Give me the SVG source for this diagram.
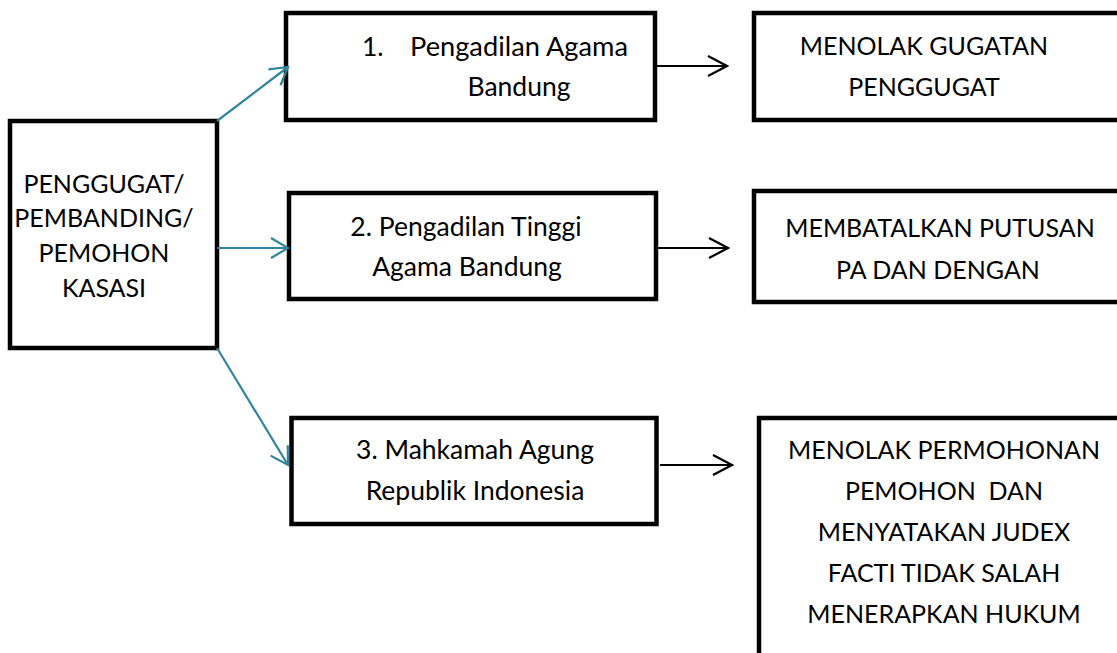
<svg xmlns="http://www.w3.org/2000/svg" width="1117" height="653" viewBox="0 0 1117 653">
  <style>
    .box { fill: #ffffff; stroke: #000000; stroke-width: 4.5; }
    .t { font-family: Lato, "Liberation Sans", sans-serif; font-size: 26.5px; fill: #000000; }
    .u { font-size: 25px; }
    .c { text-anchor: middle; }
    .teal { stroke: #31849b; stroke-width: 2.2; fill: none; }
    .blk { stroke: #000000; stroke-width: 2; fill: none; }
  </style>
  <defs>
    <marker id="headTeal" markerUnits="userSpaceOnUse" viewBox="-20 -12 22 24" refX="0" refY="0" markerWidth="22" markerHeight="24" orient="auto">
      <path d="M-17 -10 L0 0 L-17 10" fill="none" stroke="#31849b" stroke-width="2.2"/>
    </marker>
    <marker id="headBlk" markerUnits="userSpaceOnUse" viewBox="-22 -12 24 24" refX="0" refY="0" markerWidth="24" markerHeight="24" orient="auto">
      <path d="M-19 -10 L0 0 L-19 10" fill="none" stroke="#000000" stroke-width="2.2"/>
    </marker>
  </defs>
  <rect width="1117" height="653" fill="#ffffff"/>

  <g id="node-penggugat">
    <rect class="box" x="10" y="121" width="207" height="227"/>
    <text class="t u c" x="104" y="193">PENGGUGAT/</text>
    <text class="t u c" x="104" y="227">PEMBANDING/</text>
    <text class="t u c" x="104" y="262">PEMOHON</text>
    <text class="t u c" x="104" y="297">KASASI</text>
  </g>

  <g id="node-pa-bandung">
    <rect class="box" x="286" y="13" width="369" height="107"/>
    <text class="t" x="362" y="56">1.</text>
    <text class="t" x="410" y="56" textLength="218" lengthAdjust="spacingAndGlyphs">Pengadilan Agama</text>
    <text class="t c" x="519" y="96">Bandung</text>
  </g>

  <g id="node-pta-bandung">
    <rect class="box" x="289" y="193" width="367" height="106"/>
    <text class="t c" x="466" y="236">2. Pengadilan Tinggi</text>
    <text class="t c" x="467" y="276">Agama Bandung</text>
  </g>

  <g id="node-ma-ri">
    <rect class="box" x="291.5" y="418" width="365" height="106"/>
    <text class="t c" x="475" y="459">3. Mahkamah Agung</text>
    <text class="t c" x="475" y="500">Republik Indonesia</text>
  </g>

  <g id="node-menolak-gugatan">
    <rect class="box" x="754" y="13" width="380" height="107"/>
    <text class="t u c" x="924" y="55">MENOLAK GUGATAN</text>
    <text class="t u c" x="924" y="96">PENGGUGAT</text>
  </g>

  <g id="node-membatalkan">
    <rect class="box" x="754" y="191" width="380" height="111"/>
    <text class="t u c" x="940" y="237">MEMBATALKAN PUTUSAN</text>
    <text class="t u c" x="938" y="279">PA DAN DENGAN</text>
  </g>

  <g id="node-menolak-permohonan">
    <rect class="box" x="759" y="418" width="380" height="260"/>
    <text class="t u c" x="944" y="459">MENOLAK PERMOHONAN</text>
    <text class="t u c" x="944" y="500" xml:space="preserve">PEMOHON  DAN</text>
    <text class="t u c" x="944" y="541">MENYATAKAN JUDEX</text>
    <text class="t u c" x="944" y="582">FACTI TIDAK SALAH</text>
    <text class="t u c" x="944" y="623">MENERAPKAN HUKUM</text>
  </g>

  <g id="connectors">
    <line class="teal" x1="217" y1="121" x2="288" y2="67" marker-end="url(#headTeal)"/>
    <line class="teal" x1="217" y1="248" x2="288" y2="248" marker-end="url(#headTeal)"/>
    <line class="teal" x1="217" y1="348" x2="288" y2="465" marker-end="url(#headTeal)"/>
    <line class="blk" x1="657" y1="66" x2="727" y2="66" marker-end="url(#headBlk)"/>
    <line class="blk" x1="658" y1="248" x2="728" y2="248" marker-end="url(#headBlk)"/>
    <line class="blk" x1="660" y1="465" x2="732" y2="465" marker-end="url(#headBlk)"/>
  </g>
</svg>
